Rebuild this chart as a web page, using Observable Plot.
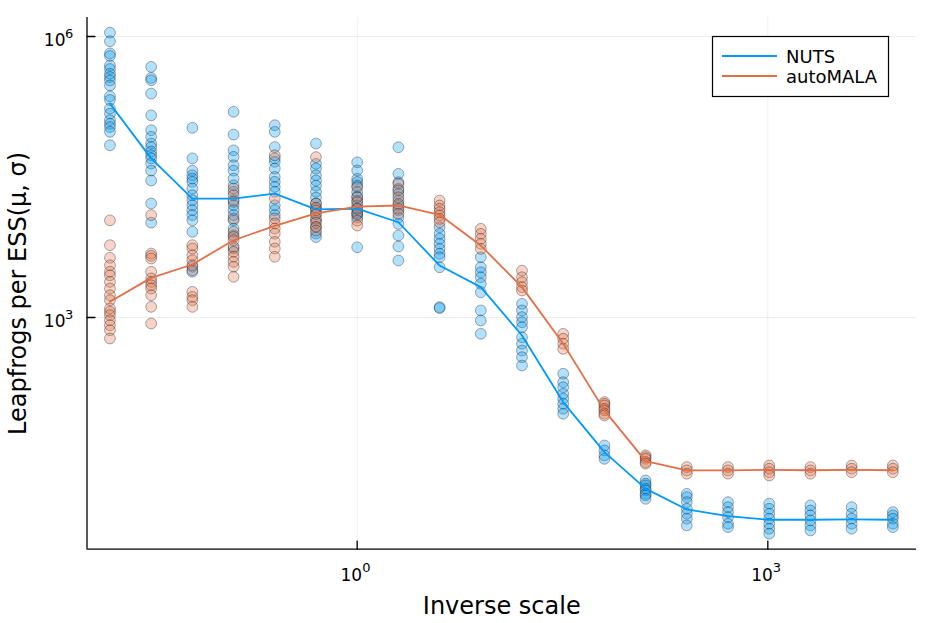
<!DOCTYPE html>
<html><head><meta charset="utf-8">
<script src="https://cdn.jsdelivr.net/npm/d3@7"></script>
<script src="https://cdn.jsdelivr.net/npm/@observablehq/plot@0.6"></script>
<style>body{margin:0;background:#fff;} #chart{width:934px;height:623px;}</style>
</head><body><div id="chart"></div>
<script>
// x values: inverse scale (powers of two)
const inverseScale = [0.015625, 0.03125, 0.0625, 0.125, 0.25, 0.5, 1, 2, 4, 8, 16, 32, 64, 128, 256, 512, 1024, 2048, 4096, 8192];
const seriesNames = ["NUTS", "autoMALA"];
const seriesColors = ["#009AFA", "#E36F47"];

// replicate values (leapfrogs per ESS), one list per inverse scale
const nutsReplicates = [
  [1.10e6, 8.9e5, 6.6e5, 6.2e5, 4.9e5, 4.5e5, 4.0e5, 3.7e5, 3.4e5, 3.0e5, 2.3e5, 2.1e5, 1.7e5, 1.5e5, 1.28e5, 1.17e5, 1.08e5, 9.6e4, 6.9e4],
  [4.74e5, 3.61e5, 3.41e5, 2.46e5, 1.44e5, 1.0e5, 8.5e4, 7.2e4, 6.6e4, 5.9e4, 5.4e4, 5.0e4, 4.4e4, 3.7e4, 2.9e4, 1.65e4, 1.03e4],
  [1.06e5, 5.0e4, 3.7e4, 3.3e4, 3.04e4, 2.81e4, 2.38e4, 2.02e4, 1.79e4, 1.58e4, 1.40e4, 1.24e4, 1.09e4, 8220, 3480, 3080],
  [1.57e5, 8.98e4, 6.1e4, 5.19e4, 4.22e4, 3.7e4, 3.04e4, 2.58e4, 2.2e4, 1.79e4, 1.58e4, 1.40e4, 1.24e4, 1.09e4, 8910, 7550, 5450],
  [1.13e5, 9.6e4, 6.6e4, 5.0e4, 4.59e4, 3.89e4, 3.17e4, 2.81e4, 2.48e4, 2.2e4, 1.58e4, 1.40e4, 1.24e4],
  [7.2e4, 4.37e4, 3.89e4, 3.3e4, 2.9e4, 2.56e4, 2.2e4, 1.91e4, 1.65e4, 1.46e4, 1.29e4, 1.08e4, 9290, 7870, 7230],
  [4.54e4, 3.71e4, 3.02e4, 2.8e4, 2.56e4, 2.19e4, 1.95e4, 1.77e4, 1.57e4, 1.45e4, 1.33e4, 1.25e4, 1.17e4, 5620],
  [6.57e4, 3.42e4, 2.78e4, 2.36e4, 2.09e4, 1.77e4, 1.57e4, 1.39e4, 1.17e4, 1.0e4, 7500, 5730, 4060],
  [9200, 7820, 6920, 6120, 5410, 4790, 4400, 3440, 1290, 1260],
  [4400, 3440, 3040, 2690, 2290, 1860, 1190, 929, 670],
  [1400, 1190, 1010, 891, 788, 616, 524, 444, 377, 307],
  [251, 204, 180, 153, 136, 120, 106, 93.8],
  [43.0, 38.1, 33.7, 31.0],
  [18.2, 16.8, 16.1, 14.9, 14.3, 13.1, 12.6, 11.6],
  [13.1, 12.1, 10.7, 9.08, 8.04, 7.11, 6.03],
  [10.7, 9.45, 8.36, 7.39, 6.28, 5.78],
  [10.3, 9.08, 8.04, 7.11, 6.28, 5.56, 4.92],
  [9.86, 8.71, 7.71, 6.82, 6.03, 5.33],
  [9.45, 8.04, 7.11, 6.28, 5.56],
  [8.36, 7.71, 7.11, 6.28, 5.78]
];
const autoMALAReplicates = [
  [10900, 5920, 4340, 3610, 3080, 2820, 2400, 2040, 1730, 1530, 1250, 1150, 1060, 935, 828, 731, 597],
  [12400, 4820, 4550, 4260, 3080, 2610, 2400, 2210, 2040, 1730, 1300, 863],
  [5920, 5450, 4620, 4090, 3610, 3200, 1880, 1660, 1530, 1300],
  [23800, 20200, 17200, 11400, 8220, 7260, 6680, 5690, 5020, 4450, 3930, 3480, 2720],
  [54000, 18600, 11400, 10100, 8910, 7870, 6430, 5450, 4450],
  [51600, 16500, 14900, 13900, 12600, 11400, 10300, 9250, 8480],
  [24600, 19200, 17000, 14500, 12800, 10800, 9590],
  [26700, 22700, 19200, 16300, 14500, 12800],
  [17700, 15700, 14500, 13300, 12300, 11300, 10400],
  [8850, 7820, 6920, 6120, 5410],
  [3170, 2690, 2380, 2110, 1940],
  [670, 593, 524, 463],
  [125, 120, 115, 106, 102, 94, 90],
  [33.7, 32.3, 31.0, 28.6, 27.5],
  [25.3, 23.3, 21.5],
  [25.3, 23.3, 21.5],
  [26.3, 24.3, 22.3, 20.6],
  [25.3, 23.3, 21.5],
  [26.3, 24.3, 22.3],
  [26.3, 24.3, 22.3]
];

// summary lines
const nutsLine = [192000, 50000, 18600, 18600, 21000, 14300, 14500, 10400, 3590, 2110, 643, 125, 36.5, 14.9, 8.93, 7.57, 6.93, 6.93, 7.0, 6.93];
const autoMALALine = [1470, 2650, 3680, 6680, 9520, 12900, 15300, 15700, 12500, 5870, 2110, 524, 102, 29.3, 23.3, 23.3, 23.6, 23.4, 23.6, 23.4];

// ticks: base "10" with exponent
const xTicks = [1, 1000];
const xTickExponents = ["0", "3"];
const yTicks = [1000, 1000000];
const yTickExponents = ["3", "6"];
const tickBase = "10";
const xLabel = "Inverse scale";
const yLabel = "Leapfrogs per ESS(μ, σ)";

const xDomain = [0.01062, 12196];
const yDomain = [3.36, 1.596e6];

const points = [];
[nutsReplicates, autoMALAReplicates].forEach((reps, s) =>
  reps.forEach((vals, i) => vals.forEach(v => points.push({series: seriesNames[s], x: inverseScale[i], y: v}))));
const lines = [];
[nutsLine, autoMALALine].forEach((vals, s) =>
  vals.forEach((v, i) => lines.push({series: seriesNames[s], x: inverseScale[i], y: v})));

const tickShape = {draw(context, l) { context.moveTo(0, 0); context.lineTo(0, -l); }};

const plot = Plot.plot({
  width: 934, height: 623,
  marginLeft: 86.5, marginRight: 18, marginTop: 17, marginBottom: 74.3,
  style: {fontFamily: "DejaVu Sans", background: "white"},
  x: {type: "log", domain: xDomain, axis: null},
  y: {type: "log", domain: yDomain, axis: null},
  color: {domain: seriesNames, range: seriesColors},
  marks: [
    Plot.gridX({ticks: xTicks, stroke: "black", strokeOpacity: 0.1, strokeWidth: 0.7}),
    Plot.gridY({ticks: yTicks, stroke: "black", strokeOpacity: 0.1, strokeWidth: 0.7}),
    Plot.dot(points, {x: "x", y: "y", fill: "series", fillOpacity: 0.3, stroke: "black", strokeOpacity: 0.33, strokeWidth: 1, r: 5.4}),
    Plot.line(lines, {x: "x", y: "y", stroke: "series", z: "series", strokeWidth: 1.8}),
    // axis lines
    Plot.ruleX([xDomain[0]], {stroke: "black", strokeWidth: 1.3}),
    Plot.ruleY([yDomain[0]], {stroke: "black", strokeWidth: 1.3}),
    // inward ticks
    Plot.vector(xTicks, {x: d => d, frameAnchor: "bottom", anchor: "start", length: 8, rotate: 0, shape: tickShape, stroke: "black", strokeWidth: 1.3}),
    Plot.vector(yTicks, {y: d => d, frameAnchor: "left", anchor: "start", length: 8, rotate: 90, shape: tickShape, stroke: "black", strokeWidth: 1.3}),
    // tick labels
    Plot.text(xTicks, {x: d => d, frameAnchor: "bottom", text: () => tickBase, textAnchor: "end", lineAnchor: "bottom", dx: 5, dy: 31.3, fontSize: 17, fill: "black"}),
    Plot.text(xTicks, {x: d => d, frameAnchor: "bottom", text: (d, i) => xTickExponents[i], textAnchor: "start", lineAnchor: "bottom", dx: 5, dy: 23, fontSize: 13, fill: "black"}),
    Plot.text(yTicks, {y: d => d, frameAnchor: "left", text: () => tickBase, textAnchor: "end", lineAnchor: "bottom", dx: -21.5, dy: 9.7, fontSize: 17, fill: "black"}),
    Plot.text(yTicks, {y: d => d, frameAnchor: "left", text: (d, i) => yTickExponents[i], textAnchor: "start", lineAnchor: "bottom", dx: -22, dy: 1.5, fontSize: 13, fill: "black"}),
    // axis titles
    Plot.text([xLabel], {frameAnchor: "bottom", text: d => d, textAnchor: "middle", lineAnchor: "bottom", dy: 64.5, fontSize: 24, fill: "black"}),
    Plot.text([yLabel], {frameAnchor: "left", text: d => d, rotate: -90, textAnchor: "middle", lineAnchor: "bottom", dx: -61.5, dy: 10, fontSize: 24, fill: "black"})
  ]
});

// legend (top right, boxed)
const svg = d3.select(plot);
const lg = svg.append("g").attr("font-family", "DejaVu Sans").attr("font-size", 18).attr("text-anchor", "start");
lg.append("rect").attr("x", 712.5).attr("y", 36.5).attr("width", 176).attr("height", 60)
  .attr("fill", "white").attr("stroke", "black").attr("stroke-width", 1.2);
seriesNames.forEach((name, i) => {
  const y = 56 + i * 20;
  lg.append("line").attr("x1", 722).attr("x2", 777).attr("y1", y).attr("y2", y)
    .attr("stroke", seriesColors[i]).attr("stroke-width", 1.8);
  lg.append("text").attr("x", 786).attr("y", y + 6.5).attr("fill", "black").text(name);
});

document.getElementById("chart").appendChild(plot);
</script>
</body></html>
